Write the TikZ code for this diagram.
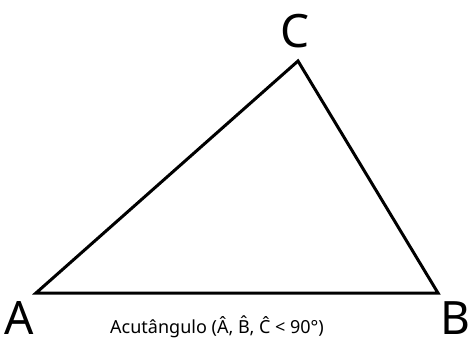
\documentclass[tikz,border=0pt]{standalone}
\usepackage{fontspec}
\setmainfont{Noto Sans}
\begin{document}
\begin{tikzpicture}[x=1pt,y=1pt,
  vlabel/.style={font=\fontsize{46}{46}\selectfont, inner sep=0pt, anchor=center},
  side/.style={line width=3pt, line join=miter}]
\useasboundingbox (0,0) rectangle (470,338);
\coordinate (A) at (36,45);
\coordinate (B) at (438,45);
\coordinate (C) at (298,277);
\draw[side] (A) -- (B) -- (C) -- cycle;
\node[vlabel] (la) at (19,20) {A};
\node[vlabel] (lb) at (455,20) {B};
\node[vlabel] (lc) at (295,307) {C};
\node[font=\fontsize{18}{18}\selectfont, inner sep=0pt, anchor=base] (cap) at (217,5) {Acutângulo (Â, B̂, Ĉ < 90°)};
\end{tikzpicture}
\end{document}
